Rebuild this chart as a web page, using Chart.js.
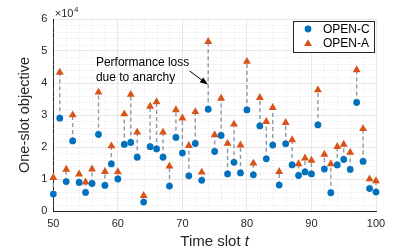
<!DOCTYPE html>
<html>
<head>
<meta charset="utf-8">
<script src="https://cdn.jsdelivr.net/npm/chart.js@4.4.0/dist/chart.umd.min.js"></script>
<style>
  html, body { margin: 0; padding: 0; background: #fff; }
  #wrap { width: 415px; height: 249px; }
</style>
</head>
<body>
<div id="wrap"><canvas id="chart"></canvas></div>
<script>
// Data (objective values, raw units)
const slots = [50, 51, 52, 53, 54, 55, 56, 57, 58, 59, 60, 61, 62, 63, 64, 65, 66, 67, 68, 69, 70,
  71, 72, 73, 74, 75, 76, 77, 78, 79, 80, 81, 82, 83, 84, 85, 86, 87, 88, 89, 90,
  91, 92, 93, 94, 95, 96, 97, 98, 99, 100];
const openC = [5300, 29000, 9200, 21900, 8900, 5800, 8600, 23900, 8000, 14700, 10000,
  20800, 21400, 16800, 2800, 20100, 19400, 16800, 7800, 23000, 18100,
  11000, 21100, 9600, 31800, 18600, 23600, 11600, 15200, 11900, 31600,
  11300, 26600, 16300, 20600, 8100, 21000, 14400, 11100, 12200, 11600,
  26900, 13100, 5700, 14400, 16100, 13000, 33900, 15500, 7000, 5900];
const openA = [10400, 43300, 13000, 30000, 11500, 9000, 13100, 37100, 12300, 20300, 12200,
  30300, 36400, 24600, 4800, 32700, 34100, 24600, 14000, 31600, 29000,
  20400, 31000, 12100, 52900, 23800, 35200, 21100, 27100, 20600, 46700,
  14900, 35400, 27900, 32300, 12300, 27600, 22200, 14700, 16500, 15800,
  37800, 17700, 14700, 20100, 20800, 18300, 44100, 25700, 10000, 9400];
const yTickLabels = ['0', '1', '2', '3', '4', '5', '6'];
const seriesNames = ['OPEN-C', 'OPEN-A'];

const blue = '#0072BD';
const orange = '#D95319';
const font = 'Liberation Sans, Arial, Helvetica, sans-serif';

const pointsC = slots.map((t, i) => ({ x: t, y: openC[i] }));
const pointsA = slots.map((t, i) => ({ x: t, y: openA[i] }));
// vertical dashed connectors, broken by nulls
const gaps = [];
slots.forEach((t, i) => {
  gaps.push({ x: t, y: openC[i] }, { x: t, y: openA[i] }, { x: t, y: null });
});

// minor grid, annotation, legend and axis titles
const decor = {
  id: 'decor',
  beforeDatasetsDraw(chart) {
    const { ctx, chartArea: a, scales: { x, y } } = chart;
    ctx.save();
    ctx.strokeStyle = '#d4d4d4';
    ctx.lineWidth = 0.6;
    ctx.setLineDash([1, 2]);
    for (let t = 52; t < 100; t += 2) {
      if (t % 10 === 0) continue;
      const px = Math.round(x.getPixelForValue(t)) + 0.5;
      ctx.beginPath(); ctx.moveTo(px, a.top); ctx.lineTo(px, a.bottom); ctx.stroke();
    }
    for (let v = 2000; v < 60000; v += 2000) {
      if (v % 10000 === 0) continue;
      const py = Math.round(y.getPixelForValue(v)) + 0.5;
      ctx.beginPath(); ctx.moveTo(a.left, py); ctx.lineTo(a.right, py); ctx.stroke();
    }
    ctx.restore();
  },
  afterDraw(chart) {
    const { ctx, chartArea: a, scales: { x, y } } = chart;
    ctx.save();
    ctx.fillStyle = '#262626';

    // exponent label
    ctx.font = '11px ' + font;
    ctx.textBaseline = 'alphabetic';
    ctx.textAlign = 'left';
    ctx.fillText('\u00d710', a.left + 1.5, a.top - 2.5);
    const w = ctx.measureText('\u00d710').width;
    ctx.font = '8px ' + font;
    ctx.fillText('4', a.left + 1.5 + w + 0.5, a.top - 7);

    // y title
    ctx.font = '14.5px ' + font;
    ctx.textAlign = 'center';
    ctx.textBaseline = 'middle';
    ctx.save();
    ctx.translate(25, (a.top + a.bottom) / 2);
    ctx.rotate(-Math.PI / 2);
    ctx.fillText('One-slot objective', 0, 0);
    ctx.restore();

    // x title with italic t
    ctx.font = '15px ' + font;
    ctx.textBaseline = 'alphabetic';
    ctx.textAlign = 'left';
    const part1 = 'Time slot ';
    const w1 = ctx.measureText(part1).width;
    ctx.font = 'italic 15px ' + font;
    const w2 = ctx.measureText('t').width;
    const startX = (a.left + a.right) / 2 - (w1 + w2) / 2;
    ctx.font = '15px ' + font;
    ctx.fillText(part1, startX, 246);
    ctx.font = 'italic 15px ' + font;
    ctx.fillText('t', startX + w1, 246);

    // annotation
    ctx.fillStyle = '#000';
    ctx.font = '12px ' + font;
    ctx.textBaseline = 'middle';
    const tx = x.getPixelForValue(56.6);
    ctx.fillText('Performance loss', tx, y.getPixelForValue(46200));
    ctx.fillText('due to anarchy', tx, y.getPixelForValue(41800));
    const x0 = x.getPixelForValue(71.1), y0 = y.getPixelForValue(43800);
    const x1 = x.getPixelForValue(73.95), y1 = y.getPixelForValue(39500);
    const ang = Math.atan2(y1 - y0, x1 - x0);
    ctx.strokeStyle = '#000';
    ctx.lineWidth = 1;
    ctx.beginPath();
    ctx.moveTo(x0, y0);
    ctx.lineTo(x1 - 6 * Math.cos(ang), y1 - 6 * Math.sin(ang));
    ctx.stroke();
    ctx.beginPath();
    ctx.moveTo(x1, y1);
    ctx.lineTo(x1 - 8 * Math.cos(ang) + 3 * Math.sin(ang), y1 - 8 * Math.sin(ang) - 3 * Math.cos(ang));
    ctx.lineTo(x1 - 8 * Math.cos(ang) - 3 * Math.sin(ang), y1 - 8 * Math.sin(ang) + 3 * Math.cos(ang));
    ctx.closePath();
    ctx.fill();

    // legend box
    const bx = a.right - 83.5, by = a.top + 1.5, bw = 81, bh = 31;
    ctx.fillStyle = '#fff';
    ctx.fillRect(bx, by, bw, bh);
    ctx.strokeStyle = '#262626';
    ctx.lineWidth = 1;
    ctx.strokeRect(Math.round(bx) + 0.5, Math.round(by) + 0.5, bw, bh);
    const rows = [by + 8.5, by + 22.5];
    ctx.fillStyle = blue;
    ctx.beginPath(); ctx.arc(bx + 15.5, rows[0], 3.4, 0, Math.PI * 2); ctx.fill();
    ctx.fillStyle = orange;
    const r = 4.6, cx = bx + 15.5, cy = rows[1] + 0.8;
    ctx.beginPath();
    ctx.moveTo(cx, cy - r);
    ctx.lineTo(cx + r * Math.sin(Math.PI * 2 / 3), cy - r * Math.cos(Math.PI * 2 / 3));
    ctx.lineTo(cx + r * Math.sin(Math.PI * 4 / 3), cy - r * Math.cos(Math.PI * 4 / 3));
    ctx.closePath(); ctx.fill();
    ctx.fillStyle = '#000';
    ctx.font = '12px ' + font;
    ctx.textAlign = 'left';
    ctx.textBaseline = 'middle';
    ctx.fillText(seriesNames[0], bx + 30.5, rows[0] + 0.5);
    ctx.fillText(seriesNames[1], bx + 30.5, rows[1] + 0.5);
    ctx.restore();
  }
};

const ctx = document.getElementById('chart').getContext('2d');
const chart = new Chart(ctx, {
  type: 'scatter',
  data: {
    datasets: [{
      label: seriesNames[0],
      data: pointsC,
      pointStyle: 'circle',
      pointRadius: 3.4,
      backgroundColor: blue,
      borderWidth: 0,
      clip: false,
      order: 1
    }, {
      label: seriesNames[1],
      data: pointsA,
      pointStyle: 'triangle',
      pointRadius: 4.6,
      backgroundColor: orange,
      borderWidth: 0,
      clip: false,
      order: 2
    }, {
      label: 'gap',
      data: gaps,
      showLine: true,
      spanGaps: false,
      borderColor: '#8d99ab',
      borderWidth: 1.4,
      borderDash: [4, 3],
      pointRadius: 0,
      clip: false,
      order: 3
    }]
  },
  options: {
    responsive: true,
    maintainAspectRatio: false,
    animation: false,
    events: [],
    layout: { padding: { top: 19, right: 39, left: 0, bottom: 0 } },
    plugins: {
      legend: { display: false },
      tooltip: { enabled: false }
    },
    scales: {
      x: {
        type: 'linear',
        min: 50,
        max: 100,
        afterFit: s => { s.height = 38; },
        ticks: { stepSize: 10, padding: 6, color: '#262626', font: { family: font, size: 11 } },
        grid: { color: '#e2e2e2', lineWidth: 0.8, drawTicks: false },
        border: { color: '#262626', width: 1 }
      },
      y: {
        min: 0,
        max: 60000,
        afterFit: s => { s.width = 53.3; },
        ticks: {
          stepSize: 10000,
          padding: 6,
          color: '#262626',
          font: { family: font, size: 11 },
          callback: v => yTickLabels[Math.round(v / 10000)]
        },
        grid: { color: '#e2e2e2', lineWidth: 0.8, drawTicks: false },
        border: { color: '#262626', width: 1 }
      }
    }
  },
  plugins: [decor]
});
</script>
</body>
</html>
